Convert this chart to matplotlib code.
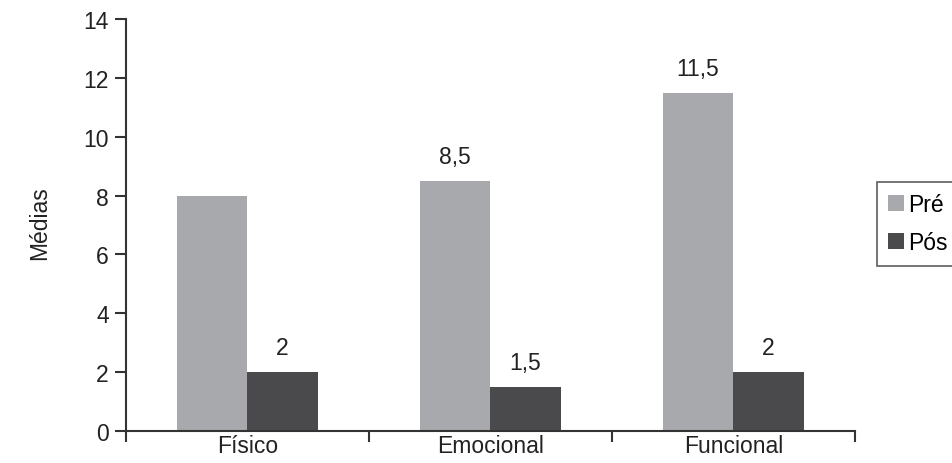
import numpy as np
import matplotlib.pyplot as plt

plt.rcParams['font.family'] = ['Liberation Sans', 'DejaVu Sans']

# médias por domínio, antes e depois
categorias = ['Físico', 'Emocional', 'Funcional']
pre = [8, 8.5, 11.5]
pos = [2, 1.5, 2]
rot_pre = [None, '8,5', '11,5']
rot_pos = ['2', '1,5', '2']

cor_pre = '#a7a9ac'
cor_pos = '#4a4a4c'
cor_eixo = '#333333'
cor_txt = '#222222'
fs = 16.5

fig = plt.figure(figsize=(9.52, 4.64), dpi=100)
ax = fig.add_axes([0.132, 0.069, 0.766, 0.888])

x = np.arange(len(categorias))
w = 0.29
b1 = ax.bar(x - w/2, pre, w, color=cor_pre, label='Pré')
b2 = ax.bar(x + w/2, pos, w, color=cor_pos, label='Pós')

for barras, rots in ((b1, rot_pre), (b2, rot_pos)):
    for b, r in zip(barras, rots):
        if r is None:
            continue
        ax.text(b.get_x() + b.get_width()/2, b.get_height() + 0.82, r,
                ha='center', va='center', fontsize=fs, color=cor_txt)

ax.set_xlim(-0.5, 2.5)
ax.set_ylim(0, 14)
ax.set_yticks(range(0, 15, 2))
ax.set_xticks(x)
ax.set_xticklabels(categorias)
ax.set_xticks(np.arange(-0.5, 2.6, 1), minor=True)
ax.tick_params(axis='x', which='major', length=0, pad=2, labelsize=fs, labelcolor=cor_txt)
ax.tick_params(axis='x', which='minor', length=8, width=1.5, color=cor_eixo, direction='out')
ax.tick_params(axis='y', length=8, width=1.5, color=cor_eixo, labelsize=fs, labelcolor=cor_txt, pad=4)

for s in ('top', 'right'):
    ax.spines[s].set_visible(False)
for s in ('left', 'bottom'):
    ax.spines[s].set_linewidth(1.5)
    ax.spines[s].set_color(cor_eixo)

fig.text(0.042, 0.52, 'Médias', rotation=90, ha='center', va='center',
         fontsize=fs, color=cor_txt)

leg = fig.legend(loc='upper left', bbox_to_anchor=(0.921, 0.606), fontsize=fs,
                 frameon=True, fancybox=False, handlelength=0.7, handleheight=0.7,
                 handletextpad=0.15, borderpad=0.5, labelspacing=0.65, borderaxespad=0)
leg.get_frame().set_edgecolor(cor_eixo)
leg.get_frame().set_linewidth(1.2)

fig.savefig('out.png', dpi=100)
